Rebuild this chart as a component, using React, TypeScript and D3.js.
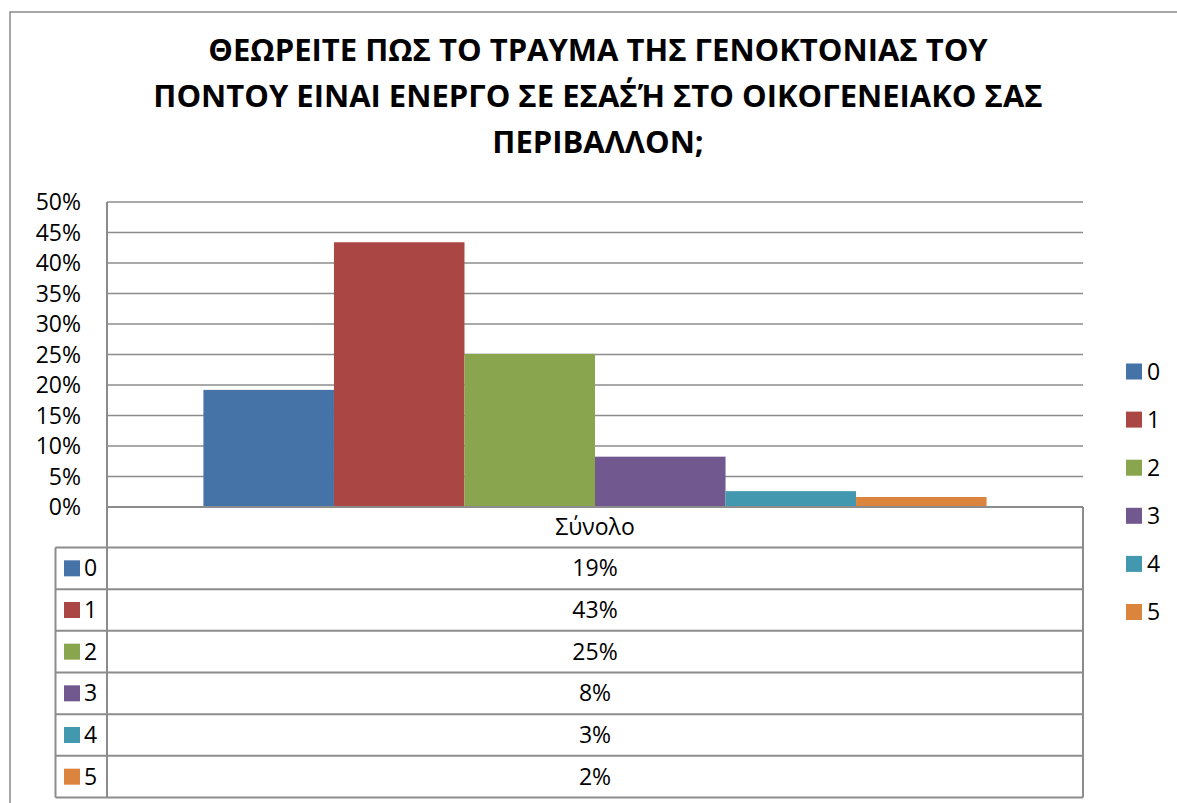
import React from "react";
import * as d3 from "d3";

const titleLines = [
  "ΘΕΩΡΕΙΤΕ ΠΩΣ ΤΟ ΤΡΑΥΜΑ ΤΗΣ ΓΕΝΟΚΤΟΝΙΑΣ ΤΟΥ",
  "ΠΟΝΤΟΥ ΕΙΝΑΙ ΕΝΕΡΓΟ ΣΕ ΕΣΑΣ΄Ή ΣΤΟ ΟΙΚΟΓΕΝΕΙΑΚΟ ΣΑΣ",
  "ΠΕΡΙΒΑΛΛΟΝ;",
];
const categories = ["Σύνολο"];
const seriesNames = ["0", "1", "2", "3", "4", "5"];
const seriesValues = [0.192, 0.434, 0.251, 0.0825, 0.026, 0.0164];
const seriesColors = ["#4572A7", "#AA4643", "#89A54E", "#71588F", "#4198AF", "#DB843D"];
const yTicks = [0, 0.05, 0.1, 0.15, 0.2, 0.25, 0.3, 0.35, 0.4, 0.45, 0.5];

const W = 1177;
const H = 803;
const FONT = "'Open Sans', sans-serif";
const GRID = "#8c8c8c";
const TITLE_SIZE = 31;
const LABEL_SIZE = 23;

export default function App() {
  const plotLeft = 107;
  const plotRight = 1083;
  const plotTop = 202;
  const plotBottom = 507;
  const headerBottom = 547.5;
  const tableBottom = 797.5;
  const tableLeft = 55.5;

  const y = d3.scaleLinear().domain([0, 0.5]).range([plotBottom, plotTop]);
  const x0 = d3.scaleBand<string>().domain(categories).range([plotLeft, plotRight]);
  const gap = x0.bandwidth() * 0.0988;
  const x1 = d3
    .scaleBand<string>()
    .domain(seriesNames)
    .range([gap, x0.bandwidth() - gap]);
  const rowScale = d3
    .scaleBand<string>()
    .domain(seriesNames)
    .range([headerBottom, tableBottom]);
  const legendY = d3.scalePoint<string>().domain(seriesNames).range([371.5, 612]);
  const fmt = d3.format(".0%");
  const cat = categories[0];
  const cx = (x0(cat) as number) + x0.bandwidth() / 2;

  return (
    <svg
      width={W}
      height={H}
      style={{ position: "absolute", left: 0, top: 0, background: "#fff" }}
      fontFamily={FONT}
    >
      <rect x={0} y={0} width={W} height={H} fill="#fff" />
      <rect x={10} y={12} width={W + 20} height={H + 20} fill="none" stroke="#8a8a8a" strokeWidth={1.5} />

      {titleLines.map((t, i) => (
        <text
          key={i}
          x={598}
          y={61 + i * 46}
          textAnchor="middle"
          fontWeight="bold"
          fontSize={TITLE_SIZE}
          fill="#000"
        >
          {t}
        </text>
      ))}

      {yTicks.map((t) => (
        <line key={t} x1={plotLeft} x2={plotRight} y1={y(t)} y2={y(t)} stroke={GRID} strokeWidth={1.5} />
      ))}
      {yTicks.map((t) => (
        <text key={"l" + t} x={81} y={y(t) + 8} textAnchor="end" fontSize={LABEL_SIZE} fill="#000">
          {fmt(t)}
        </text>
      ))}

      {seriesNames.map((s, i) => (
        <rect
          key={s}
          x={(x0(cat) as number) + (x1(s) as number)}
          width={x1.bandwidth()}
          y={y(seriesValues[i])}
          height={plotBottom - y(seriesValues[i])}
          fill={seriesColors[i]}
        />
      ))}

      <line x1={plotLeft} x2={plotRight} y1={plotBottom} y2={plotBottom} stroke={GRID} strokeWidth={2} />
      <line x1={plotLeft} x2={plotLeft} y1={plotTop} y2={tableBottom} stroke={GRID} strokeWidth={2} />
      <line x1={plotRight} x2={plotRight} y1={plotBottom} y2={tableBottom} stroke={GRID} strokeWidth={2} />
      <line x1={tableLeft} x2={tableLeft} y1={headerBottom} y2={tableBottom} stroke={GRID} strokeWidth={2} />
      <line x1={tableLeft} x2={plotRight} y1={headerBottom} y2={headerBottom} stroke={GRID} strokeWidth={2} />
      {seriesNames.map((s) => (
        <line
          key={"row" + s}
          x1={tableLeft}
          x2={plotRight}
          y1={(rowScale(s) as number) + rowScale.bandwidth()}
          y2={(rowScale(s) as number) + rowScale.bandwidth()}
          stroke={GRID}
          strokeWidth={2}
        />
      ))}

      <text x={cx} y={(plotBottom + headerBottom) / 2 + 8} textAnchor="middle" fontSize={LABEL_SIZE}>
        {cat}
      </text>

      {seriesNames.map((s, i) => {
        const cy = (rowScale(s) as number) + rowScale.bandwidth() / 2;
        return (
          <g key={"tr" + s}>
            <rect x={64} y={cy - 8} width={16} height={16} fill={seriesColors[i]} />
            <text x={84} y={cy + 8} fontSize={LABEL_SIZE}>
              {s}
            </text>
            <text x={cx} y={cy + 8} textAnchor="middle" fontSize={LABEL_SIZE}>
              {fmt(seriesValues[i])}
            </text>
          </g>
        );
      })}

      {seriesNames.map((s, i) => {
        const cy = legendY(s) as number;
        return (
          <g key={"lg" + s}>
            <rect x={1126} y={cy - 8} width={16} height={16} fill={seriesColors[i]} />
            <text x={1147} y={cy + 8} fontSize={LABEL_SIZE}>
              {s}
            </text>
          </g>
        );
      })}
    </svg>
  );
}
